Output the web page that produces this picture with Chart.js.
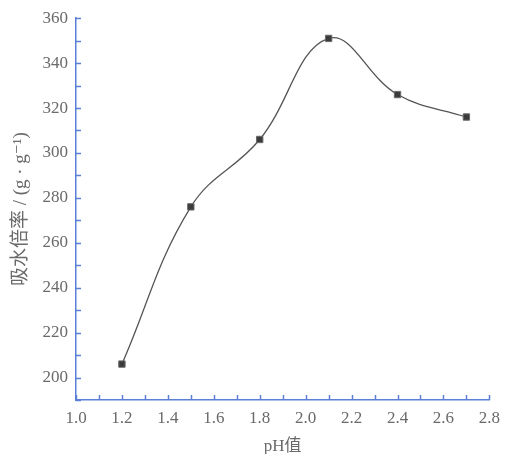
<!DOCTYPE html>
<html>
<head>
<meta charset="utf-8">
<script src="https://cdn.jsdelivr.net/npm/chart.js@4/dist/chart.umd.min.js"></script>
<style>
  html, body { margin: 0; padding: 0; background: #fff; }
  #wrap { width: 508px; height: 454px; }
</style>
</head>
<body>
<div id="wrap"><canvas id="myChart"></canvas></div>
<script>
// valores
const phValues = [1.2, 1.5, 1.8, 2.1, 2.4, 2.7];
const absorcion = [206, 276, 306, 351, 326, 316];
const xTicks = [1.0, 1.2, 1.4, 1.6, 1.8, 2.0, 2.2, 2.4, 2.6, 2.8];
const yTicks = [200, 220, 240, 260, 280, 300, 320, 340, 360];

const axisBlue = "#5b7fd6";
const textGray = "#6a6a6a";
const serif = "\"Liberation Serif\", \"Times New Roman\", \"DejaVu Serif\", \"Noto Sans CJK SC\", serif";

// ticks hacia adentro, mayores y menores del mismo largo
const inwardTicks = {
  id: "inwardTicks",
  afterDraw(chart) {
    const ctx = chart.ctx;
    const area = chart.chartArea;
    const x = chart.scales.x;
    const y = chart.scales.y;
    ctx.save();
    ctx.strokeStyle = axisBlue;
    ctx.lineWidth = 1.5;
    ctx.beginPath();
    x.ticks.forEach((t) => {
      const px = Math.round(x.getPixelForValue(t.value)) + 0.5;
      ctx.moveTo(px, area.bottom);
      ctx.lineTo(px, area.bottom - 5);
    });
    y.ticks.forEach((t) => {
      const py = Math.round(y.getPixelForValue(t.value)) + 0.5;
      ctx.moveTo(area.left, py);
      ctx.lineTo(area.left + 5, py);
    });
    ctx.stroke();
    ctx.restore();
  },
};

var ctx = document.getElementById("myChart");

const data = {
  datasets: [
    {
      label: "吸水倍率",
      data: phValues.map((p, i) => ({ x: p, y: absorcion[i] })),
      borderColor: "#555",
      borderWidth: 1.3,
      tension: 0.4,
      pointStyle: "rect",
      pointRadius: 4.5,
      pointBackgroundColor: "#3b3b3b",
      pointBorderColor: "#6a6a6a",
      pointBorderWidth: 1,
      fill: false,
    },
  ],
};

new Chart(ctx, {
  type: "line",
  data: data,
  plugins: [inwardTicks],
  options: {
    responsive: true,
    maintainAspectRatio: false,
    animation: false,
    layout: { padding: { top: 17, right: 15, left: 0, bottom: 0 } },
    plugins: {
      legend: { display: false },
      tooltip: { enabled: false },
    },
    scales: {
      x: {
        type: "linear",
        min: 1.0,
        max: 2.8,
        afterFit: (scale) => { scale.height = 54; },
        afterBuildTicks: (scale) => {
          const arr = [];
          for (let i = 0; i <= 18; i++) arr.push({ value: +(1.0 + i * 0.1).toFixed(1) });
          scale.ticks = arr;
        },
        ticks: {
          autoSkip: false,
          maxRotation: 0,
          padding: 8,
          color: textGray,
          font: { family: serif, size: 17 },
          callback: (v) => {
            const t = xTicks.find((k) => Math.abs(k - v) < 1e-6);
            return t !== undefined ? t.toFixed(1) : "";
          },
        },
        grid: { drawOnChartArea: false, drawTicks: false },
        border: { color: axisBlue, width: 1.5 },
        title: {
          display: true,
          text: "pH值",
          color: textGray,
          font: { family: serif, size: 17 },
          padding: { top: 0, bottom: -3 },
        },
      },
      y: {
        min: 190,
        max: 360,
        afterFit: (scale) => { scale.width = 76; },
        afterBuildTicks: (scale) => {
          const arr = [];
          for (let v = 190; v <= 360; v += 10) arr.push({ value: v });
          scale.ticks = arr;
        },
        ticks: {
          autoSkip: false,
          padding: 8,
          color: textGray,
          font: { family: serif, size: 17 },
          callback: (v) => (yTicks.includes(v) ? String(v) : ""),
        },
        grid: { drawOnChartArea: false, drawTicks: false },
        border: { color: axisBlue, width: 1.5 },
        title: {
          display: true,
          text: "吸水倍率 / (g · g\u207B\u00B9)",
          color: textGray,
          font: { family: serif, size: 19 },
          padding: { top: 10, bottom: 0 },
        },
      },
    },
  },
});
</script>
</body>
</html>
